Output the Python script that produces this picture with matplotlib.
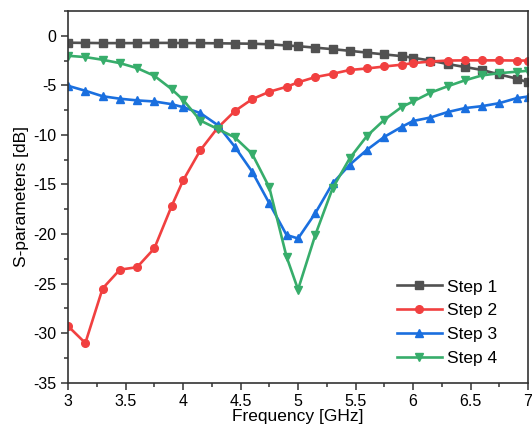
import matplotlib
matplotlib.use("Agg")
import matplotlib.pyplot as plt
from matplotlib.ticker import MultipleLocator, FormatStrFormatter

plt.rcParams['font.family'] = ['Liberation Sans', 'DejaVu Sans']
plt.rcParams['axes.unicode_minus'] = False

# frequency points (GHz) where the markers sit
freq = [3.0, 3.15, 3.3, 3.45, 3.6, 3.75, 3.9, 4.0, 4.15, 4.3, 4.45, 4.6, 4.75, 4.9,
        5.0, 5.15, 5.3, 5.45, 5.6, 5.75, 5.9, 6.0, 6.15, 6.3, 6.45, 6.6, 6.75, 6.9, 7.0]

step1 = [-0.70, -0.72, -0.74, -0.74, -0.74, -0.72, -0.72, -0.74, -0.74, -0.76, -0.78, -0.80, -0.86, -0.98,
         -1.05, -1.20, -1.35, -1.52, -1.70, -1.88, -2.05, -2.22, -2.50, -2.85, -3.15, -3.45, -3.90, -4.32, -4.70]
step2 = [-29.3, -31.0, -25.5, -23.6, -23.35, -21.45, -17.2, -14.6, -11.55, -9.3, -7.6, -6.4, -5.65, -5.15,
         -4.7, -4.17, -3.84, -3.45, -3.3, -3.1, -2.92, -2.76, -2.6, -2.5, -2.48, -2.48, -2.48, -2.5, -2.5]
step3 = [-5.05, -5.55, -6.1, -6.35, -6.52, -6.63, -6.9, -7.2, -7.8, -9.0, -11.2, -13.7, -16.9, -20.1,
         -20.45, -17.9, -14.9, -13.0, -11.5, -10.2, -9.2, -8.6, -8.25, -7.7, -7.3, -7.1, -6.8, -6.3, -6.13]
step4 = [-2.02, -2.15, -2.42, -2.76, -3.26, -4.04, -5.38, -6.46, -8.55, -9.4, -10.25, -11.9, -15.3, -22.3,
         -25.6, -20.1, -15.4, -12.35, -10.1, -8.48, -7.2, -6.63, -5.75, -5.1, -4.5, -4.0, -3.77, -3.63, -3.53]

labels = ["Step 1", "Step 2", "Step 3", "Step 4"]
colors = ["#515151", "#F14040", "#1A6FDF", "#37AD6B"]
markers = ["s", "o", "^", "v"]

fig = plt.figure(figsize=(5.32, 4.26), dpi=100)
ax = fig.add_axes([0.128, 0.1017, 0.8645, 0.8725])

for y, lab, c, m in zip([step1, step2, step3, step4], labels, colors, markers):
    ax.plot(freq, y, color=c, marker=m, markersize=5.5, linewidth=1.9, label=lab)

ax.set_xlim(3, 7)
ax.set_ylim(-35, 2.5)
ax.xaxis.set_major_locator(MultipleLocator(0.5))
ax.xaxis.set_minor_locator(MultipleLocator(0.25))
ax.yaxis.set_major_locator(MultipleLocator(5))
ax.yaxis.set_minor_locator(MultipleLocator(2.5))
ax.xaxis.set_major_formatter(FormatStrFormatter('%g'))
ax.yaxis.set_major_formatter(FormatStrFormatter('%g'))

ax.tick_params(which='both', direction='out', top=False, right=False,
               colors='#333333', labelcolor='black', width=1.1, labelsize=11.5)
ax.tick_params(which='major', length=5)
ax.tick_params(which='minor', length=3)
for s in ax.spines.values():
    s.set_color('#333333')
    s.set_linewidth(1.2)

ax.set_xlabel("Frequency [GHz]", fontsize=12.5, labelpad=0)
ax.set_ylabel("S-parameters [dB]", fontsize=12.5, labelpad=3)

ax.legend(loc='lower right', bbox_to_anchor=(0.96, 0.012), frameon=False,
          fontsize=12.5, handlelength=2.6, labelspacing=0.5, handletextpad=0.3,
          borderpad=0.2, numpoints=1)

fig.savefig("out.png", dpi=100)
